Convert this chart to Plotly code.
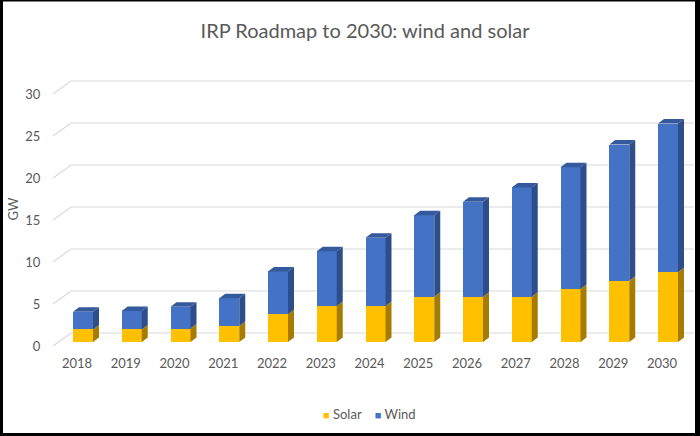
import plotly.graph_objects as go

# ---------------- data ----------------
years = ["2018", "2019", "2020", "2021", "2022", "2023", "2024",
         "2025", "2026", "2027", "2028", "2029", "2030"]
solar = [1.5, 1.5, 1.6, 1.9, 3.3, 4.3, 4.3, 5.4, 5.4, 5.4, 6.3, 7.3, 8.3]
wind = [2.1, 2.2, 2.6, 3.3, 5.1, 6.5, 8.1, 9.7, 11.3, 13.0, 14.5, 16.2, 17.7]
y_ticks = [0, 5, 10, 15, 20, 25, 30]
series_names = ["Solar", "Wind"]

# ---------------- geometry / style ----------------
W, H = 700, 436
PLOT_L, PLOT_R, PLOT_T, PLOT_B = 53, 694, 72, 346
PX_CAT = 48.75          # pixels per category
PX_GW = 8.4             # pixels per GW
X0_PX = 83              # pixel of first category centre
Y0_PX = 342             # pixel of value 0 (front face of bars)

x_range = [(PLOT_L - X0_PX) / PX_CAT, (PLOT_R - X0_PX) / PX_CAT]
y_range = [(Y0_PX - PLOT_B) / PX_GW, (Y0_PX - PLOT_T) / PX_GW]

BAR_W = 20 / PX_CAT
DX = 6 / PX_CAT
DY = 4.5 / PX_GW
WALL_X = (71 - X0_PX) / PX_CAT
WALL_BACK = 9 / PX_GW
WALL_FRONT = -4 / PX_GW

SOLAR_C, SOLAR_SIDE = "#FFC000", "#A67C00"
WIND_C, WIND_SIDE, WIND_TOP = "#4472C4", "#2E4E8A", "#34599C"
GRID_C = "#D9D9D9"
TXT = "#595959"
FONT = "Lato"

fig = go.Figure()
fig.add_trace(go.Bar(x=years, y=solar, name=series_names[0], width=BAR_W,
                     showlegend=False,
                     marker=dict(color=SOLAR_C, line=dict(width=0))))
fig.add_trace(go.Bar(x=years, y=wind, name=series_names[1], width=BAR_W,
                     showlegend=False,
                     marker=dict(color=WIND_C, line=dict(width=0))))

shapes = []
# back-wall gridlines with floor diagonals
for v in y_ticks:
    path = (f"M {x_range[0]},{v + WALL_FRONT} L {WALL_X},{v + WALL_BACK} "
            f"L {x_range[1]},{v + WALL_BACK}")
    shapes.append(dict(type="path", path=path, xref="x", yref="y",
                       line=dict(color=GRID_C, width=1.2), layer="below"))

for i, (s, w) in enumerate(zip(solar, wind)):
    xr = i + BAR_W / 2
    xl = i - BAR_W / 2
    top = s + w
    # solar side
    shapes.append(dict(type="path", xref="x", yref="y", layer="above",
                       path=(f"M {xr},{0} L {xr + DX},{DY} L {xr + DX},{s + DY} "
                             f"L {xr},{s} Z"),
                       fillcolor=SOLAR_SIDE, line=dict(width=0)))
    # wind side
    shapes.append(dict(type="path", xref="x", yref="y", layer="above",
                       path=(f"M {xr},{s} L {xr + DX},{s + DY} L {xr + DX},{top + DY} "
                             f"L {xr},{top} Z"),
                       fillcolor=WIND_SIDE, line=dict(width=0)))
    # wind top
    shapes.append(dict(type="path", xref="x", yref="y", layer="above",
                       path=(f"M {xl},{top} L {xl + DX},{top + DY} L {xr + DX},{top + DY} "
                             f"L {xr},{top} Z"),
                       fillcolor=WIND_TOP, line=dict(width=0)))


# pixel -> paper conversion
def px_x(p):
    return (p - PLOT_L) / (PLOT_R - PLOT_L)


def px_y(p):
    return (PLOT_B - p) / (PLOT_B - PLOT_T)


# outer black frame
for (a, b, c, d) in [(0, 0, 3, H), (695, 0, W, H), (0, 433, W, H), (0, 0, W, 1.5)]:
    shapes.append(dict(type="rect", xref="paper", yref="paper",
                       x0=px_x(a), x1=px_x(c), y0=px_y(d), y1=px_y(b),
                       fillcolor="black", line=dict(width=0), layer="above"))

# legend as text
sq = "<span style='color:{c};font-size:11px'>■</span>"
legend_text = (sq.format(c=SOLAR_C) + " " + series_names[0] + "    "
               + sq.format(c=WIND_C) + " " + series_names[1])

fig.update_layout(
    width=W, height=H,
    margin=dict(l=PLOT_L, r=W - PLOT_R, t=PLOT_T, b=H - PLOT_B),
    paper_bgcolor="white", plot_bgcolor="white",
    barmode="stack", bargap=0,
    shapes=shapes,
    showlegend=False,
    font=dict(family=FONT, color=TXT, size=13),
    title=dict(text="IRP Roadmap to 2030: wind and solar",
               x=365 / W, xanchor="center", y=1 - 31 / H, yanchor="middle",
               font=dict(family=FONT, size=20, color=TXT)),
    annotations=[dict(text=legend_text, xref="paper", yref="paper",
                      x=px_x(369), y=px_y(414), xanchor="center", yanchor="middle",
                      showarrow=False, font=dict(family=FONT, size=13, color=TXT))],
    xaxis=dict(type="category", range=x_range, showgrid=False, zeroline=False,
               showline=False, ticks="outside", ticklen=5,
               tickcolor="rgba(0,0,0,0)", ticklabelshift=-6,
               tickfont=dict(family=FONT, size=13, color=TXT)),
    yaxis=dict(range=y_range, tickvals=y_ticks, showgrid=False, zeroline=False,
               showline=False, ticks="outside", ticklen=9,
               tickcolor="rgba(0,0,0,0)", ticklabelshift=4,
               tickfont=dict(family=FONT, size=13, color=TXT),
               title=dict(text="GW", standoff=3,
                          font=dict(family=FONT, size=13, color=TXT))),
)

fig.write_html("out.html",
               config={"displayModeBar": False},
               post_script="document.body.style.margin='0px';"
                           "document.body.style.overflow='hidden';")
